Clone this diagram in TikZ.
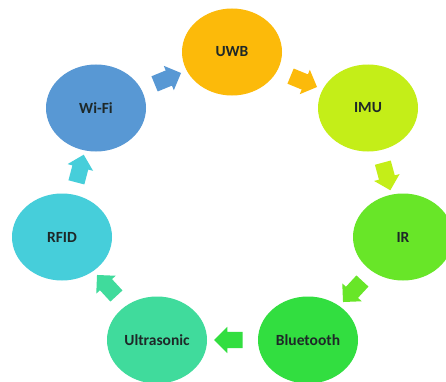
\documentclass[tikz,border=0pt]{standalone}
\usepackage{fontspec}
\setmainfont{Carlito}
\usetikzlibrary{shapes.arrows,shapes.geometric,calc}

\definecolor{cUWB}{RGB}{252,186,10}
\definecolor{cIMU}{RGB}{196,238,24}
\definecolor{cIR}{RGB}{104,230,40}
\definecolor{cBT}{RGB}{50,222,64}
\definecolor{cUS}{RGB}{64,219,156}
\definecolor{cRFID}{RGB}{70,206,218}
\definecolor{cWIFI}{RGB}{88,152,212}
\definecolor{labeltext}{RGB}{30,40,40}

\tikzset{
  tech/.style={ellipse, minimum width=100pt, minimum height=87pt, inner sep=0pt,
    text=labeltext, font=\fontsize{15.5}{17}\selectfont\bfseries},
  flowarrow/.style={single arrow, inner xsep=10pt, inner ysep=8pt,
    minimum height=28pt, single arrow head extend=5pt},
}

% block arrow halfway between two nodes, turned to point from #1 to #2
\newcommand{\ringarrow}[3]{%
  \path let \p1=($(#2)-(#1)$), \n1={atan2(\y1,\x1)} in
    node[flowarrow, fill=#3, rotate=\n1] (arr-#1) at ($(#1)!0.5!(#2)$) {};}

\begin{document}
\begin{tikzpicture}[x=1pt,y=1pt]
  \useasboundingbox (0,0) rectangle (446,381);
  \fill[white] (0,0) rectangle (446,381);

  \node[tech, fill=cUWB]  (uwb)  at (232,329) {UWB};
  \node[tech, fill=cIMU]  (imu)  at (368,273) {IMU};
  \node[tech, fill=cIR]   (ir)   at (403,144) {IR};
  \node[tech, fill=cBT]   (bt)   at (308,41)  {Bluetooth};
  \node[tech, fill=cUS]   (us)   at (157,41)  {Ultrasonic};
  \node[tech, fill=cRFID] (rfid) at (62,144)  {RFID};
  \node[tech, fill=cWIFI] (wifi) at (96,273)  {Wi-Fi};

  \ringarrow{wifi}{uwb}{cWIFI}
  \ringarrow{uwb}{imu}{cUWB}
  \ringarrow{imu}{ir}{cIMU}
  \ringarrow{ir}{bt}{cIR}
  \ringarrow{bt}{us}{cBT}
  \ringarrow{us}{rfid}{cUS}
  \ringarrow{rfid}{wifi}{cRFID}
\end{tikzpicture}
\end{document}
